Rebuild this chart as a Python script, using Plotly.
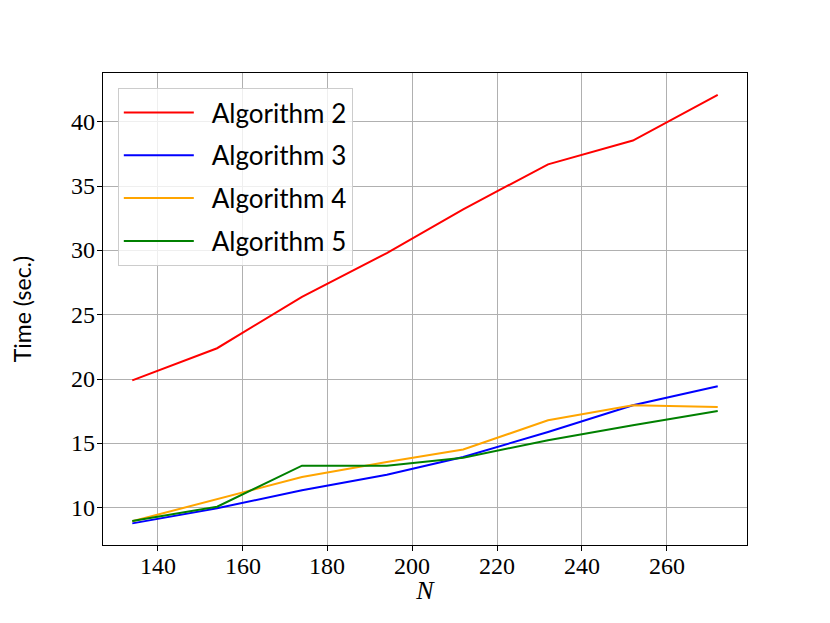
import plotly.graph_objects as go

# problem sizes
n_values = [134, 154, 174, 194, 212, 232, 252, 272]

# run times in seconds
algo2 = [19.9, 22.4, 26.4, 29.8, 33.2, 36.7, 38.55, 42.1]
algo3 = [8.78, 9.95, 11.35, 12.57, 13.94, 15.89, 17.97, 19.45]
algo4 = [8.95, 10.65, 12.38, 13.55, 14.52, 16.8, 17.97, 17.83]
algo5 = [8.96, 10.08, 13.27, 13.27, 13.89, 15.24, 16.41, 17.52]

x_ticks = [140, 160, 180, 200, 220, 240, 260]
y_ticks = [10, 15, 20, 25, 30, 35, 40]

series = [
    ("Algorithm 2", algo2, "red"),
    ("Algorithm 3", algo3, "blue"),
    ("Algorithm 4", algo4, "orange"),
    ("Algorithm 5", algo5, "green"),
]

fig = go.Figure()
for i, (name, vals, color) in enumerate(series):
    fig.add_trace(go.Scatter(
        x=n_values, y=vals, mode="lines", name="\u2002" + name,
        line=dict(color=color, width=2),
        legendgroup=str(i),
    ))

serif = "Liberation Serif"
sans = "Lato"

fig.update_layout(
    width=830, height=623,
    # page body adds an 8px offset, so margins are shifted to compensate
    margin=dict(l=95, r=91, t=65, b=86),
    font=dict(family=serif, size=24, color="black"),
    paper_bgcolor="white", plot_bgcolor="white",
    legend=dict(
        x=0.023, y=0.968, xanchor="left", yanchor="top",
        bgcolor="rgba(255,255,255,0.8)", bordercolor="#cccccc", borderwidth=1,
        font=dict(family=sans, size=26, color="black"),
        tracegroupgap=6, itemwidth=70,
    ),
    showlegend=True,
)

axis_style = dict(
    showline=True, linecolor="black", linewidth=1, mirror=True,
    showgrid=True, gridcolor="#b0b0b0", gridwidth=1,
    ticks="outside", ticklen=5, tickcolor="black",
    zeroline=False, automargin=False, showticklabels=False,
)

fig.update_xaxes(
    range=[127.1, 278.9], tickvals=x_ticks,
    title_text="<i>N</i>", title_font=dict(family=serif, size=26, color="black"),
    title_standoff=30, **axis_style,
)
fig.update_yaxes(
    range=[7.1, 43.8], tickvals=y_ticks,
    title_text="Time (sec.)", title_font=dict(family=sans, size=23, color="black"),
    title_standoff=58, **axis_style,
)

# serif tick labels placed at the axis tick values
for t in x_ticks:
    fig.add_annotation(
        x=t, y=0, xref="x", yref="paper", text=str(t), showarrow=False,
        yanchor="top", yshift=-6, font=dict(family=serif, size=24, color="black"),
    )
for t in y_ticks:
    fig.add_annotation(
        x=0, y=t, xref="paper", yref="y", text=str(t), showarrow=False,
        xanchor="right", xshift=-6, font=dict(family=serif, size=24, color="black"),
    )

fig.write_html("out.html")
